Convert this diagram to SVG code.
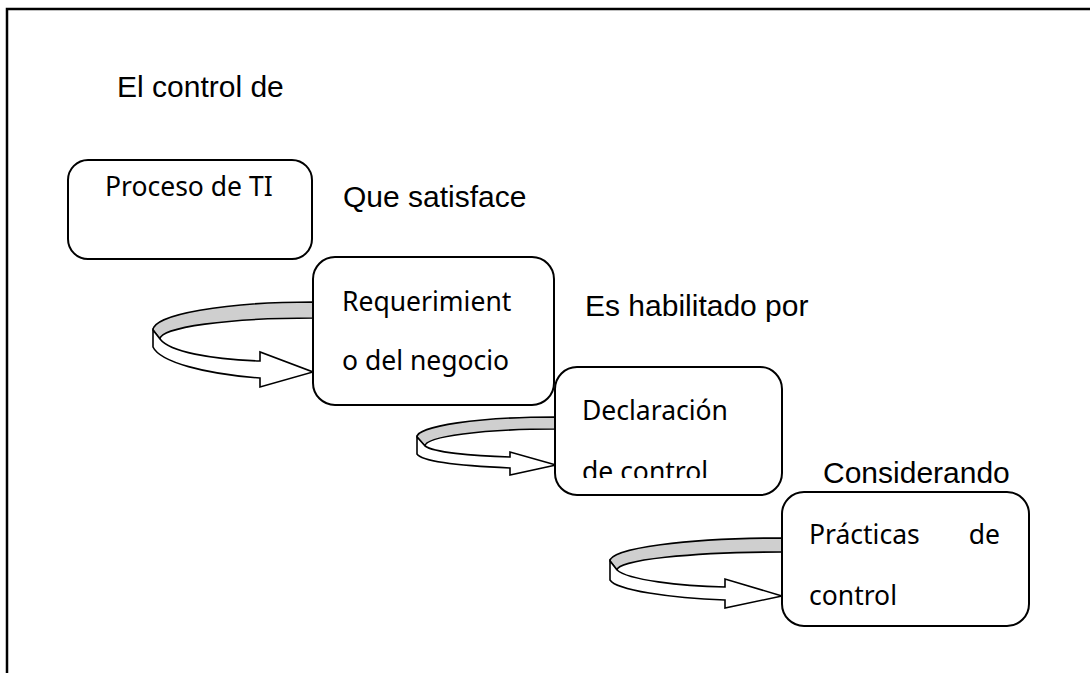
<svg xmlns="http://www.w3.org/2000/svg" width="1090" height="673" viewBox="0 0 1090 673">
<style>
.lbl{font-family:"Liberation Sans",Arial,sans-serif;font-size:30px;fill:#000}
.bt{font-family:"Noto Sans","Open Sans",sans-serif;font-size:26.5px;fill:#000}
.box{fill:#fff;stroke:#000;stroke-width:2}
.band{fill:#cfcfcf;stroke:#000;stroke-width:1.6;stroke-linejoin:round}
.face{fill:#fff;stroke:#000;stroke-width:1.6;stroke-linejoin:miter}
</style>
<defs>
<clipPath id="c3"><rect x="555" y="367" width="228" height="111"/></clipPath>
</defs>
<rect width="1090" height="673" fill="#fff"/>
<path d="M7,673 V9 H1090" fill="none" stroke="#000" stroke-width="2.5"/>

<text class="lbl" x="117" y="97">El control de</text>
<text class="lbl" x="343" y="207">Que satisface</text>
<text class="lbl" x="585" y="316">Es habilitado por</text>
<text class="lbl" x="823" y="483">Considerando</text>

<g id="connectors">
<g id="arrow1">
<path class="band" d="M313,302 A160,28 0 0 0 153,330 L160,339 A153,21 0 0 1 313,318 Z"/>
<path class="face" d="M153,330 L160,339 C170,352 210,359 260,361 L260,352 L313,372 L260,387 L260,378 C205,374 160,362 153,347 Z"/>
</g>
<g id="arrow2">
<path class="band" d="M555,417 A138,20 0 0 0 417,437 L425,446 A130,17 0 0 1 555,429 Z"/>
<path class="face" d="M417,437 L425,446 C433,452 470,456 510,457 L510,452 L556,465 L510,475 L510,468 C465,466 422,462 417,454 Z"/>
</g>
<g id="arrow3">
<path class="band" d="M782,538 A172,23 0 0 0 610,561 L617,570 A165,18 0 0 1 782,552 Z"/>
<path class="face" d="M610,561 L617,570 C628,580 680,586 725,587 L725,579 L782,596 L725,608 L725,600 C670,598 616,590 610,580 Z"/>
</g>
</g>

<g id="node1">
<rect class="box" x="68" y="160" width="244" height="99" rx="20"/>
<text class="bt" x="105" y="196">Proceso de TI</text>
</g>
<g id="node2">
<rect class="box" x="313" y="257" width="241" height="148" rx="22"/>
<text class="bt" x="342" y="311">Requerimient</text>
<text class="bt" x="342" y="370">o del negocio</text>
</g>
<g id="node3">
<rect class="box" x="555" y="367" width="227" height="128" rx="22"/>
<text class="bt" x="582" y="420">Declaración</text>
<text class="bt" x="582" y="481" clip-path="url(#c3)">de control</text>
</g>
<g id="node4">
<rect class="box" x="782" y="492" width="247" height="134" rx="22"/>
<text class="bt" x="809" y="544">Prácticas</text>
<text class="bt" x="1000" y="544" text-anchor="end">de</text>
<text class="bt" x="809" y="605">control</text>
</g>
</svg>
